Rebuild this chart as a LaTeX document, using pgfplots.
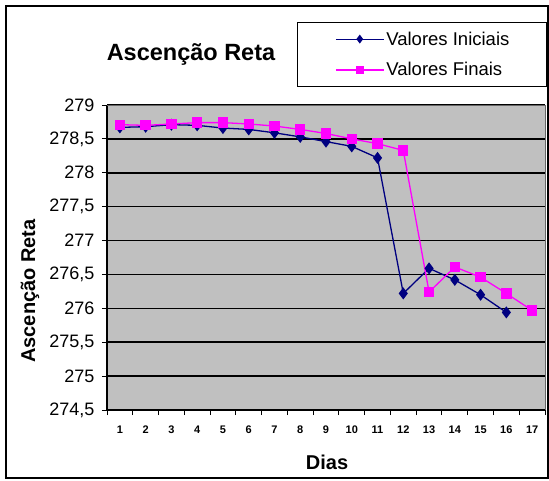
\documentclass[border=0pt]{standalone}
\usepackage{pgfplots}
\pgfplotsset{compat=1.18}
\usepackage{fontspec}
\setmainfont{Liberation Sans}
\setsansfont{Liberation Sans}
\definecolor{navyline}{HTML}{000080}
\definecolor{magline}{HTML}{FF00FF}
\definecolor{plotgray}{HTML}{C0C0C0}

\pgfplotstableread{
dia valor
1  278.67
2  278.68
3  278.71
4  278.70
5  278.66
6  278.64
7  278.59
8  278.53
9  278.46
10 278.39
11 278.22
12 276.22
13 276.59
14 276.42
15 276.20
16 275.94
}\iniciais

\pgfplotstableread{
dia valor
1  278.71
2  278.70
3  278.72
4  278.74
5  278.74
6  278.72
7  278.69
8  278.64
9  278.58
10 278.50
11 278.43
12 278.33
13 276.24
14 276.61
15 276.46
16 276.22
17 275.97
}\finais

\begin{document}
\begin{tikzpicture}
\useasboundingbox (0pt,0pt) rectangle (549pt,-480pt);
% chart area frame
\draw[line width=1.4pt] (6pt,-6pt) rectangle (548pt,-478pt);
% title and axis captions
\node[font=\bfseries\fontsize{23.5}{23.5}\selectfont] at (191pt,-54pt) {Ascenção Reta};
\node[font=\bfseries\fontsize{20}{20}\selectfont, rotate=90] at (30pt,-291pt) {Ascenção Reta};
\node[font=\bfseries\fontsize{20}{20}\selectfont] at (327pt,-462pt) {Dias};
\begin{axis}[
  at={(107pt,-410pt)}, anchor=south west,
  scale only axis, width=438pt, height=305pt,
  xmin=0.5, xmax=17.5, ymin=274.5, ymax=279,
  axis background/.style={fill=plotgray},
  axis line style={draw=black, line width=1.2pt},
  axis x line*=bottom, axis y line*=left,
  ytick={274.5,275,...,279},
  ymajorgrids, grid style={black, line width=1.5pt},
  xtick={1,...,17},
  minor xtick={0.5,1.5,...,17.5},
  major x tick style={draw=none},
  minor tick length=5pt, major tick length=5pt,
  tick align=outside,
  tick style={black, line width=1pt},
  /pgf/number format/use comma,
  /pgf/number format/assume math mode=true,
  yticklabel style={font=\fontsize{18}{18}\selectfont, xshift=-4pt},
  xticklabel style={font=\bfseries\fontsize{11}{11}\selectfont, yshift=-7pt},
  clip=false,
  legend style={at={(1.0046,1.272)}, anchor=north east,
    draw=black, line width=1.2pt, fill=white,
    font=\fontsize{18.5}{18.5}\selectfont,
    inner xsep=2pt, inner ysep=7pt, row sep=12pt,
    legend cell align=left},
  legend image code/.code={%
    \path[draw=none, fill=none] (-36pt,0pt) rectangle (48pt,0pt);
    \draw[mark repeat=2, mark phase=2, line width=1.2pt, mark size=3.5pt]
      plot coordinates {(0pt,0pt) (24pt,0pt) (48pt,0pt)};},
]
\draw[draw=gray!80!black, line width=1pt] (rel axis cs:0,1) -- (rel axis cs:1,1) -- (rel axis cs:1,0);
\addplot[color=navyline, line width=1.3pt, mark=diamond*, mark size=5pt,
  mark options={fill=navyline, draw=navyline}] table[x=dia,y=valor] {\iniciais};
\addlegendentry{Valores Iniciais\hspace*{33pt}}
\addplot[color=magline, line width=1.3pt, mark=square*, mark size=4.5pt,
  mark options={fill=magline, draw=magline}] table[x=dia,y=valor] {\finais};
\addlegendentry{Valores Finais}
\end{axis}
\end{tikzpicture}
\end{document}
